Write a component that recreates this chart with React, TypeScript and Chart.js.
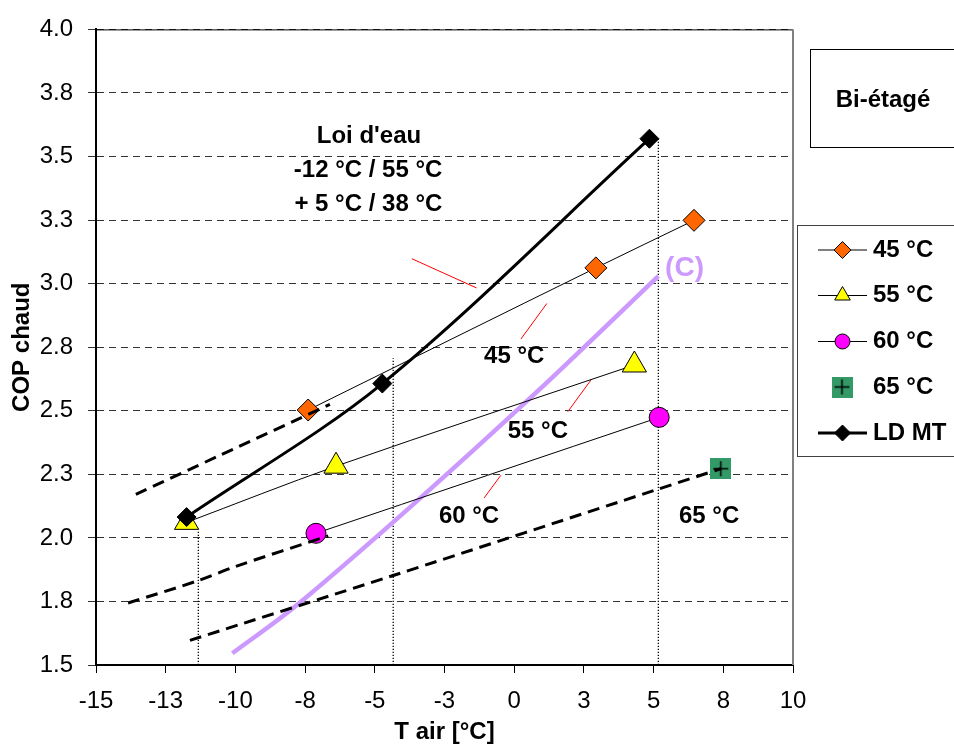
import React, { useEffect, useRef } from 'react';
import { Chart, registerables } from 'chart.js';

Chart.register(...registerables);

const FONT = '"Liberation Sans", Arial, Helvetica, sans-serif';

// ---- Axes ----
const xMin = -15;
const xMax = 10;
const xStep = 2.5;
const yMin = 1.5;
const yMax = 4.0;
const yStep = 0.25;
const xTitle = 'T air [°C]';
const yTitle = 'COP chaud';

// ---- Series (T air °C -> COP) ----
const s45X = [-7.39, 2.93, 6.45];
const s45Y = [2.503, 3.062, 3.249];
const s55X = [-11.75, -6.39, 4.31];
const s55Y = [2.061, 2.282, 2.68];
const s60X = [-7.11, 5.2];
const s60Y = [2.018, 2.474];
const s65X = [7.41];
const s65Y = [2.272];
const ldmtX = [-11.75, -4.73, 4.85];
const ldmtY = [2.082, 2.607, 3.57];

// dashed extrapolations
const ext45X = [-13.57, -10.55, -6.61];
const ext45Y = [2.171, 2.325, 2.525];
const ext60X = [-13.85, -11.33, -10.01, -6.67];
const ext60Y = [1.744, 1.832, 1.887, 2.008];
const ext65X = [-11.63, -4.34, 5.12, 7.41];
const ext65Y = [1.597, 1.852, 2.19, 2.272];

// curve (C)
const curveCX = [-10.11, -7.86, -3.62, 0.81, 5.17];
const curveCY = [1.546, 1.73, 2.132, 2.574, 3.03];

// dotted drop lines
const dropX = [-11.33, -4.34, 5.17];
const dropTopY = [2.03, 2.707, 3.57];

// red leader lines
const leadX1 = [-3.67, 1.17, 2.78, -0.48];
const leadY1 = [3.098, 2.922, 2.625, 2.246];
const leadX2 = [-1.35, 0.24, 1.92, -1.08];
const leadY2 = [2.983, 2.782, 2.496, 2.157];

// annotations
const noteTexts = ["Loi d'eau", '-12 °C / 55 °C', '+ 5 °C / 38 °C', '45 °C', '55 °C', '60 °C', '65 °C'];
const noteX = [-5.21, -5.24, -5.23, 0.0, 0.85, -1.62, 6.99];
const noteY = [3.578, 3.445, 3.311, 2.715, 2.42, 2.086, 2.086];
const curveLabel = '(C)';
const curveLabelX = 6.11;
const curveLabelY = 3.061;

const boxTitle = 'Bi-étagé';
const legendLabels = ['45 °C', '55 °C', '60 °C', '65 °C', 'LD MT'];

const pts = (xs: number[], ys: number[]) => xs.map((x, i) => ({ x, y: ys[i] }));

function shape(ctx: CanvasRenderingContext2D, style: string, x: number, y: number, r: number) {
  ctx.beginPath();
  if (style === 'rectRot') {
    ctx.moveTo(x - r, y);
    ctx.lineTo(x, y - r);
    ctx.lineTo(x + r, y);
    ctx.lineTo(x, y + r);
    ctx.closePath();
  } else if (style === 'triangle') {
    ctx.moveTo(x, y - r);
    ctx.lineTo(x + 0.866 * r, y + 0.5 * r);
    ctx.lineTo(x - 0.866 * r, y + 0.5 * r);
    ctx.closePath();
  } else {
    ctx.arc(x, y, r, 0, Math.PI * 2);
  }
}

export default function App() {
  const ref = useRef<HTMLCanvasElement>(null);

  useEffect(() => {
    const canvas = ref.current!;
    const green = document.createElement('canvas');
    green.width = 21;
    green.height = 21;
    const g = green.getContext('2d')!;
    g.fillStyle = '#339966';
    g.fillRect(0, 0, 21, 21);
    g.strokeStyle = '#000';
    g.lineWidth = 1.5;
    g.beginPath();
    g.moveTo(10.5, 3);
    g.lineTo(10.5, 18);
    g.moveTo(3, 10.5);
    g.lineTo(18, 10.5);
    g.stroke();

    const dashed = (xs: number[], ys: number[]) => ({
      data: pts(xs, ys),
      showLine: true,
      borderColor: '#000',
      borderWidth: 3,
      borderDash: [12, 7],
      pointRadius: 0,
      tension: 0.3,
      order: 0,
    });

    const datasets: any[] = [
      dashed(ext45X, ext45Y),
      dashed(ext60X, ext60Y),
      dashed(ext65X, ext65Y),
      {
        label: '45 °C', data: pts(s45X, s45Y), showLine: true, borderColor: '#000', borderWidth: 1,
        pointStyle: 'rectRot', pointRadius: 11, pointBackgroundColor: '#ff6600', pointBorderColor: '#000',
        pointBorderWidth: 1, tension: 0.33, order: 1,
      },
      {
        label: '55 °C', data: pts(s55X, s55Y), showLine: true, borderColor: '#000', borderWidth: 1,
        pointStyle: 'triangle', pointRadius: 14, pointBackgroundColor: '#ffff00', pointBorderColor: '#000',
        pointBorderWidth: 1, tension: 0.33, order: 1,
      },
      {
        label: '60 °C', data: pts(s60X, s60Y), showLine: true, borderColor: '#000', borderWidth: 1,
        pointStyle: 'circle', pointRadius: 10, pointBackgroundColor: '#ff00ff', pointBorderColor: '#000',
        pointBorderWidth: 1, tension: 0.33, order: 1,
      },
      {
        label: '65 °C', data: pts(s65X, s65Y), showLine: false,
        pointStyle: green, pointRadius: 10, order: 1,
      },
      {
        label: 'LD MT', data: pts(ldmtX, ldmtY), showLine: true, borderColor: '#000', borderWidth: 3,
        pointStyle: 'rectRot', pointRadius: 9.5, pointBackgroundColor: '#000', pointBorderColor: '#000',
        pointBorderWidth: 1, tension: 0.33, order: 0.5,
      },
      {
        label: '(C)', data: pts(curveCX, curveCY), showLine: true, borderColor: '#cc99ff', borderWidth: 4.5,
        pointRadius: 0, tension: 0.33, order: 2,
      },
    ];
    dropX.forEach((x, i) => {
      datasets.push({
        data: [{ x, y: yMin }, { x, y: dropTopY[i] }], showLine: true, borderColor: '#000', borderWidth: 1.3,
        borderDash: [1.3, 1.7], pointRadius: 0, order: 3,
      });
    });
    leadX1.forEach((x, i) => {
      datasets.push({
        data: [{ x, y: leadY1[i] }, { x: leadX2[i], y: leadY2[i] }], showLine: true, borderColor: '#ff0000',
        borderWidth: 1, pointRadius: 0, order: 3,
      });
    });

    const overlay = {
      id: 'overlay',
      afterDraw(chart: any) {
        const { ctx, chartArea: a, scales } = chart;
        const xs = scales.x;
        const ys = scales.y;
        ctx.save();
        // frame: top black, right gray
        ctx.strokeStyle = '#000';
        ctx.lineWidth = 1;
        ctx.beginPath();
        ctx.moveTo(a.left, a.top + 0.5);
        ctx.lineTo(a.right, a.top + 0.5);
        ctx.stroke();
        ctx.strokeStyle = '#808080';
        ctx.lineWidth = 2;
        ctx.beginPath();
        ctx.moveTo(a.right, a.top);
        ctx.lineTo(a.right, a.bottom);
        ctx.stroke();

        // annotations
        ctx.fillStyle = '#000';
        ctx.font = `bold 24px ${FONT}`;
        ctx.textAlign = 'center';
        ctx.textBaseline = 'middle';
        noteTexts.forEach((t, i) => {
          ctx.fillText(t, xs.getPixelForValue(noteX[i]), ys.getPixelForValue(noteY[i]));
        });
        ctx.fillStyle = '#cc99ff';
        ctx.font = `bold 28px ${FONT}`;
        ctx.fillText(curveLabel, xs.getPixelForValue(curveLabelX), ys.getPixelForValue(curveLabelY));

        // Bi-étagé box
        ctx.strokeStyle = '#000';
        ctx.lineWidth = 1;
        ctx.strokeRect(810.5, 49.5, 200, 98);
        ctx.fillStyle = '#000';
        ctx.font = `bold 24px ${FONT}`;
        ctx.fillText(boxTitle, 883, 100);

        // legend
        ctx.strokeStyle = '#404040';
        ctx.strokeRect(797.5, 225.5, 200, 231);
        const rowY = [250, 295.5, 341.5, 387, 433];
        const styles = ['rectRot', 'triangle', 'circle', 'img', 'rectRot'];
        const fills = ['#ff6600', '#ffff00', '#ff00ff', '', '#000'];
        const radii = [8.5, 9, 7.5, 0, 8];
        const lw = [1, 1, 1, 0, 3];
        legendLabels.forEach((lab, i) => {
          const y = rowY[i];
          if (lw[i] > 0) {
            ctx.strokeStyle = '#000';
            ctx.lineWidth = lw[i];
            ctx.beginPath();
            ctx.moveTo(818, y);
            ctx.lineTo(867, y);
            ctx.stroke();
          }
          if (styles[i] === 'img') {
            ctx.drawImage(green, 842 - 10.5, y - 10.5, 21, 21);
          } else {
            shape(ctx, styles[i], 842.5, y, radii[i]);
            ctx.fillStyle = fills[i];
            ctx.fill();
            ctx.strokeStyle = '#000';
            ctx.lineWidth = 1;
            ctx.stroke();
          }
          ctx.fillStyle = '#000';
          ctx.font = `bold 24px ${FONT}`;
          ctx.textAlign = 'left';
          ctx.fillText(lab, 873, y);
        });
        ctx.restore();
      },
    };

    const chart = new Chart(canvas, {
      type: 'scatter',
      data: { datasets },
      options: {
        animation: false,
        responsive: false,
        devicePixelRatio: 1,
        layout: { padding: { left: 0, top: 25, right: 161, bottom: 0 } },
        plugins: { legend: { display: false }, tooltip: { enabled: false } },
        scales: {
          x: {
            type: 'linear',
            min: xMin,
            max: xMax,
            afterFit: (s: any) => { s.height = 82; },
            ticks: {
              stepSize: xStep,
              padding: 14,
              color: '#000',
              font: { family: FONT, size: 24 },
              callback: (v: any) => Number(v).toFixed(0),
            },
            grid: { drawOnChartArea: false, drawTicks: true, tickLength: 8, tickColor: '#000', tickWidth: 1 },
            border: { display: true, color: '#000', width: 2 },
            title: {
              display: true, text: xTitle, color: '#000',
              font: { family: FONT, size: 24, weight: 'bold' }, padding: { top: 0, bottom: 0 },
            },
          },
          y: {
            type: 'linear',
            min: yMin,
            max: yMax,
            afterFit: (s: any) => { s.width = 96; },
            ticks: {
              stepSize: yStep,
              padding: 15,
              color: '#000',
              font: { family: FONT, size: 24 },
              callback: (v: any) => Number(v).toFixed(1),
            },
            grid: { color: '#333', lineWidth: 1, drawTicks: true, tickLength: 8, tickColor: '#333' },
            border: { display: true, color: '#000', width: 2, dash: [7, 5] },
            title: {
              display: true, text: yTitle, color: '#000',
              font: { family: FONT, size: 24, weight: 'bold' }, padding: { top: 8, bottom: 0 },
            },
          },
        },
      } as any,
      plugins: [overlay],
    });
    return () => chart.destroy();
  }, []);

  return (
    <div style={{ position: 'absolute', left: 0, top: 0, width: 954, height: 747, background: '#fff' }}>
      <canvas ref={ref} width={954} height={747} style={{ display: 'block', width: 954, height: 747 }} />
    </div>
  );
}
